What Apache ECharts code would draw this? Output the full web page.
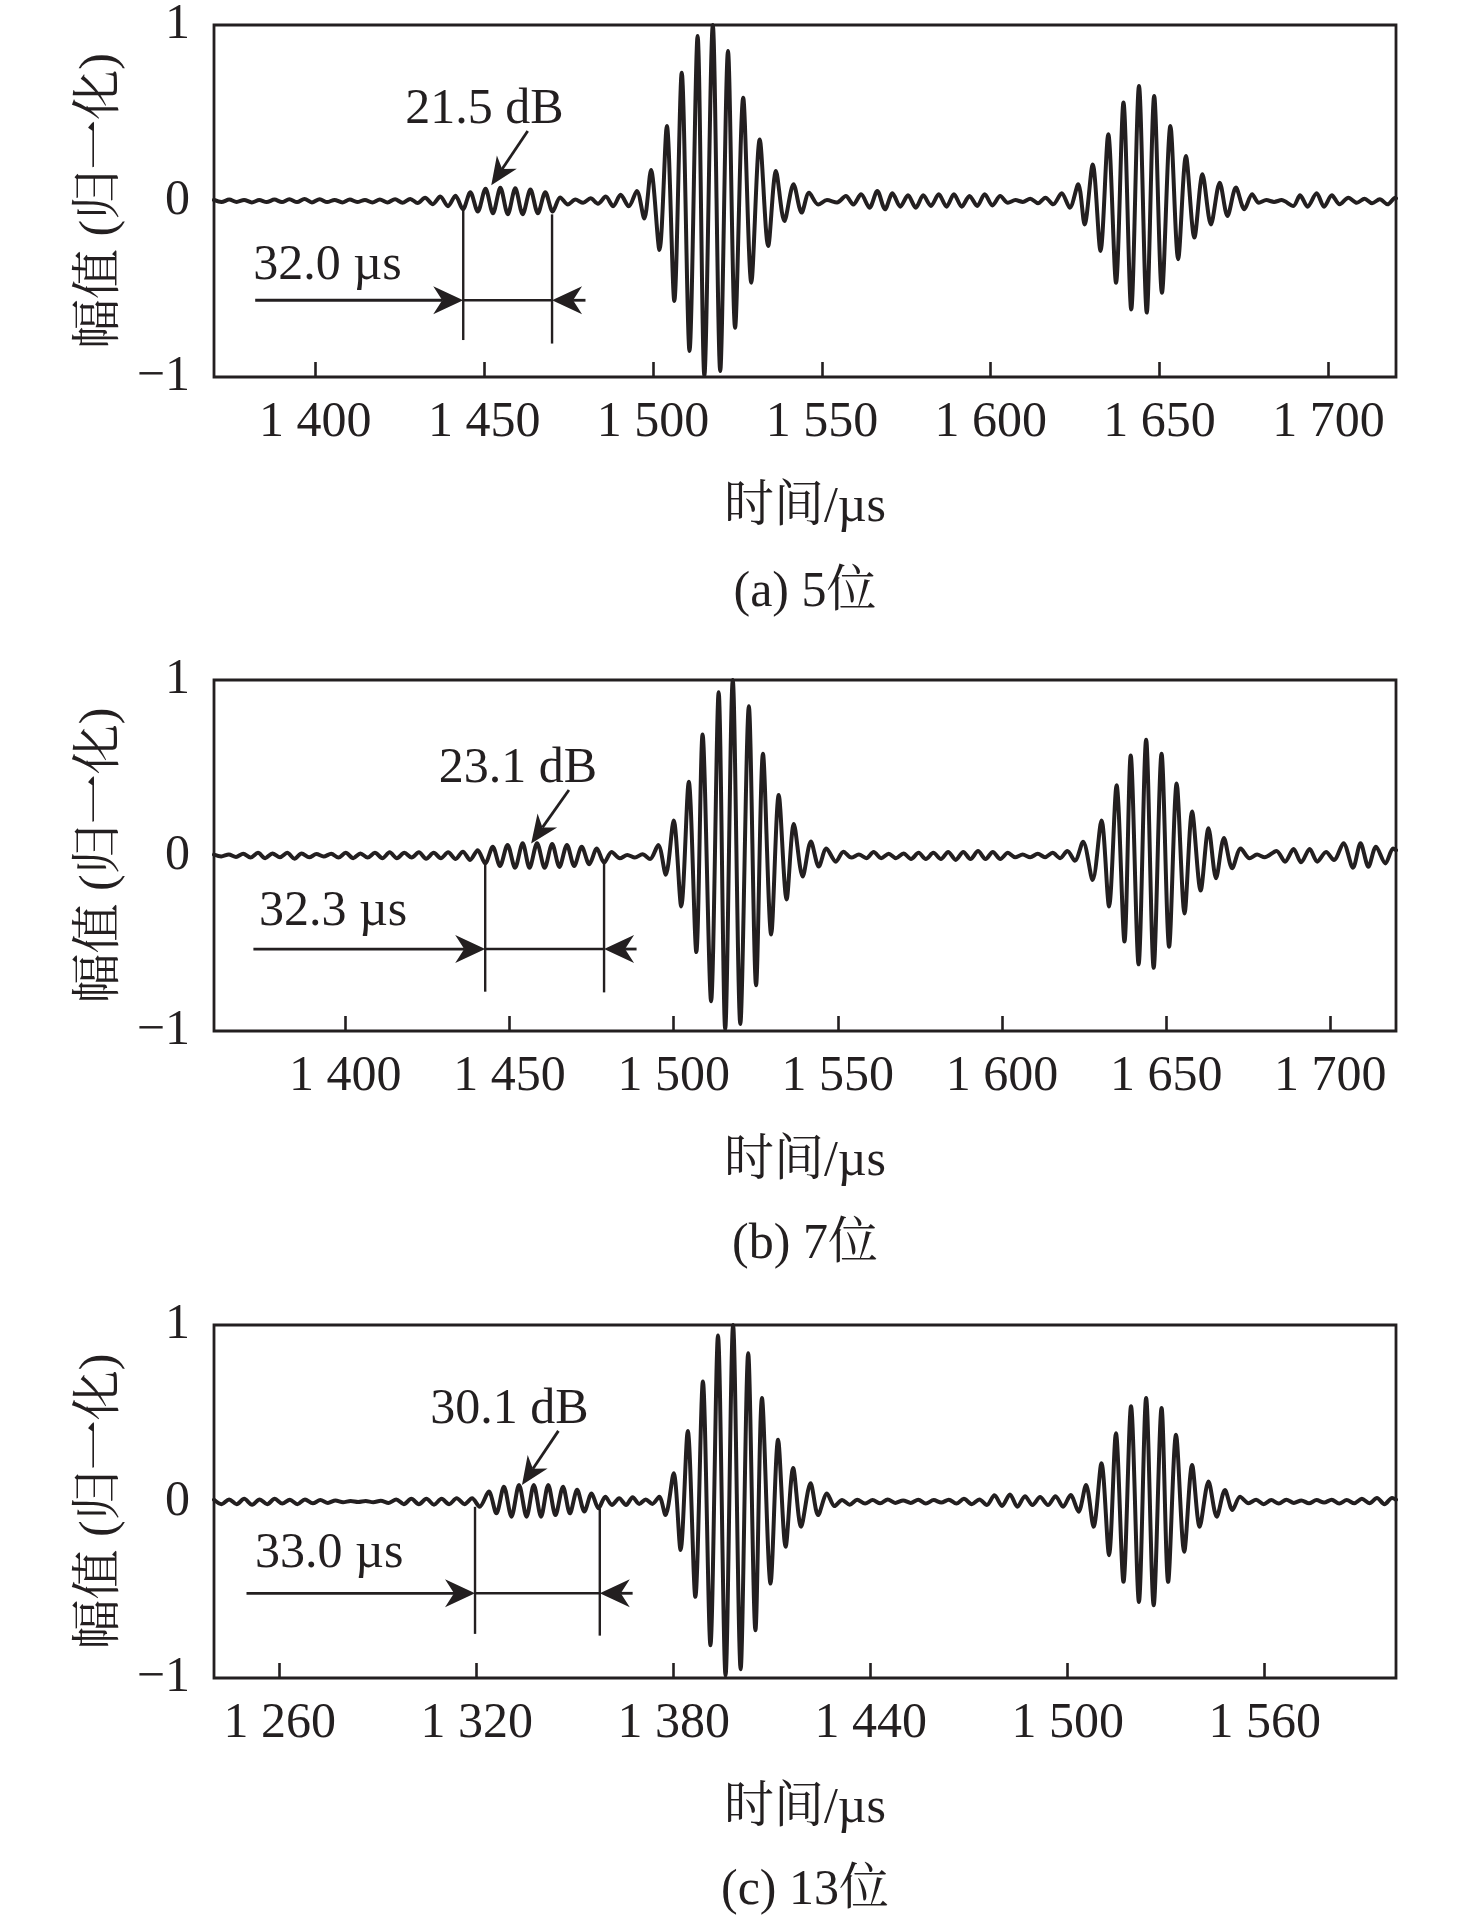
<!DOCTYPE html>
<html><head><meta charset="utf-8">
<script src="https://cdn.jsdelivr.net/npm/echarts@6/dist/echarts.min.js"></script>
<style>html,body{margin:0;padding:0;background:#fff}#c{width:1476px;height:1920px}</style>
</head><body><div id="c"></div>
<script>
// ---------- Panel (a) 5位 ----------
const timeA = [1370.0,1372.2,1374.5,1376.7,1378.9,1381.2,1383.4,1385.6,1387.9,1390.1,1392.3,1394.6,1396.8,1399.0,1401.3,1403.5,1405.7,1408.0,1410.2,1412.4,1414.7,1416.9,1419.1,1421.4,1423.6,1425.8,1428.1,1430.3,1432.5,1434.8,
1437.0,1439.3,1441.5,1443.7,1445.9,1448.1,1450.4,1452.6,1454.8,1457.0,1459.2,1461.4,1463.7,1465.9,1468.1,1470.3,1472.5,1474.8,1477.0,1479.3,1481.5,1483.7,1486.0,1488.2,1490.4,1492.8,
1495.2,1497.4,1499.4,1501.9,1504.1,1506.3,1508.5,1510.8,1513.2,1515.2,1517.7,1519.9,1522.2,1524.3,1526.7,1529.1,1531.6,1534.1,1536.4,1538.9,1541.6,1544.0,1546.2,1548.9,
1551.5,1554.5,1557.1,1559.3,1561.6,1564.1,1566.4,1568.7,1570.9,1573.2,1575.5,1577.8,1580.0,1582.3,1584.6,1586.9,1589.1,1591.4,1593.7,1596.0,1598.2,1600.5,1602.8,1605.1,1607.3,1609.5,1611.7,1614.0,1616.2,1618.5,1621.0,1623.4,
1625.9,1627.8,1630.2,1632.5,1634.8,1637.1,1639.3,1641.6,1643.9,1646.2,1648.4,1650.7,1653.2,1655.5,1657.8,1660.3,1662.7,1665.2,1667.8,1670.1,1672.6,1675.1,1677.4,1679.4,
1681.6,1683.9,1686.1,1689.6,1691.6,1693.8,1696.5,1698.7,1701.0,1703.3,1705.9,1708.4,1710.7,1712.9,1715.2,1717.5,1719.8,1720.0];
const ampA = [0.006,-0.006,0.008,-0.005,0.006,-0.008,0.005,-0.006,0.008,-0.006,0.01,-0.006,0.012,-0.008,0.01,-0.006,0.006,-0.008,0.008,-0.006,0.006,-0.008,0.008,-0.008,0.01,-0.01,0.012,-0.012,0.018,-0.018,
0.025,-0.03,0.03,-0.047,0.05,-0.06,0.07,-0.07,0.075,-0.075,0.072,-0.075,0.065,-0.07,0.05,-0.06,0.02,-0.02,0.008,-0.01,0.015,-0.015,0.025,-0.03,0.035,-0.03,
0.057,-0.10,0.176,-0.278,0.426,-0.568,0.729,-0.852,0.938,-0.994,1.0,-0.966,0.852,-0.72,0.587,-0.464,0.35,-0.256,0.17,-0.114,0.095,-0.066,0.047,-0.02,
0.005,-0.008,0.028,-0.02,0.038,-0.038,0.057,-0.047,0.044,-0.032,0.032,-0.038,0.032,-0.028,0.038,-0.032,0.038,-0.032,0.028,-0.028,0.038,-0.025,0.028,-0.01,0.005,-0.005,0.013,-0.013,0.019,-0.019,0.044,-0.038,
0.095,-0.133,0.208,-0.284,0.379,-0.464,0.559,-0.616,0.653,-0.634,0.597,-0.521,0.426,-0.331,0.256,-0.208,0.152,-0.133,0.104,-0.085,0.076,-0.047,0.038,-0.01,
0.005,-0.005,0.005,-0.028,0.032,-0.032,0.044,-0.032,0.032,-0.019,0.019,-0.01,0.013,-0.013,0.01,-0.019,0.019,0.015];
const tickValsA = [1400,1450,1500,1550,1600,1650,1700];
const tickLabelsA = ['1 400','1 450','1 500','1 550','1 600','1 650','1 700'];
const rangeA = [1370, 1720];
const textA = ['21.5 dB','32.0 µs'];
const textPosA = [[1450.1,0.52],[1403.6,-0.37]];
// segments: [x1,y1,x2,y2,head]  head 0 none, 1 span arrow, 2 pointer arrow
const segA = [[1462.9,0.398,1452.1,0.089,2],[1443.8,-0.051,1443.8,-0.79,0],[1470.1,-0.076,1470.1,-0.81,0],
  [1382.2,-0.564,1443.8,-0.564,1],[1443.8,-0.564,1470.1,-0.564,0],[1480.0,-0.564,1470.1,-0.564,1]];

// ---------- Panel (b) 7位 ----------
const timeB = [1360.0,1362.2,1364.5,1366.7,1368.9,1371.1,1373.4,1375.6,1377.8,1380.1,1382.3,1384.5,1386.7,1389.0,1391.2,1393.4,1395.7,1397.9,1400.1,1402.4,1404.6,1406.8,1409.0,1411.3,1413.5,1415.7,1418.0,1420.2,1422.4,1424.6,1426.9,1429.1,1431.3,1433.6,1435.8,1438.0,
1440.3,1442.6,1444.9,1447.1,1449.4,1451.7,1454.0,1456.1,1458.4,1460.7,1463.0,1465.2,1467.5,1469.7,1472.0,1474.3,1476.6,1478.8,1481.1,
1483.6,1485.9,1488.2,1490.5,1492.8,1495.3,1497.6,1500.0,1502.3,1504.6,1506.9,1508.8,1511.4,1513.7,1515.7,1518.0,1520.3,1522.9,1525.1,1527.2,1529.7,1532.0,1534.4,1536.6,1539.3,1541.8,1544.2,1546.5,1549.4,1551.7,1554.1,
1556.4,1558.7,1560.9,1563.2,1565.5,1567.7,1570.0,1572.3,1574.6,1576.8,1579.1,1581.4,1583.6,1585.9,1588.2,1590.4,1592.7,1595.0,1597.2,1599.5,1601.8,1604.0,1606.3,1608.6,1610.9,1613.1,1615.4,1617.7,1619.9,1622.2,
1624.7,1627.6,1630.3,1632.6,1634.9,1637.3,1639.2,1641.6,1643.9,1646.2,1648.6,1650.9,1653.2,1655.6,1657.9,1660.5,1662.9,1665.2,1667.6,1670.1,1672.7,1675.4,
1677.7,1680.0,1683.6,1686.2,1688.8,1691.1,1693.7,1696.0,1698.7,1701.1,1704.0,1706.9,1709.2,1711.6,1713.9,1716.8,1719.1,1720.0];
const ampB = [0.005,-0.005,0.006,-0.008,0.01,-0.012,0.015,-0.015,0.012,-0.01,0.015,-0.018,0.012,-0.01,0.008,-0.006,0.01,-0.012,0.015,-0.015,0.012,-0.012,0.015,-0.015,0.018,-0.015,0.015,-0.012,0.018,-0.018,0.015,-0.015,0.018,-0.02,0.022,-0.025,
0.03,-0.045,0.05,-0.06,0.06,-0.07,0.07,-0.07,0.07,-0.07,0.065,-0.065,0.06,-0.06,0.05,-0.05,0.04,-0.04,0.02,
-0.016,0.003,-0.012,0.007,-0.02,0.06,-0.11,0.2,-0.29,0.42,-0.55,0.69,-0.83,0.93,-0.99,1.0,-0.96,0.85,-0.74,0.58,-0.45,0.345,-0.25,0.18,-0.12,0.08,-0.063,0.04,-0.035,0.022,-0.012,
0.005,-0.015,0.02,-0.015,0.01,-0.015,0.012,-0.02,0.015,-0.02,0.015,-0.02,0.02,-0.025,0.02,-0.02,0.025,-0.02,0.02,-0.02,0.015,-0.01,0.005,-0.01,0.01,-0.01,0.015,-0.015,0.025,-0.03,
0.079,-0.14,0.2,-0.29,0.4,-0.49,0.57,-0.62,0.66,-0.64,0.58,-0.52,0.41,-0.33,0.25,-0.2,0.155,-0.13,0.1,-0.073,0.04,-0.016,
0.005,-0.01,0.026,-0.035,0.037,-0.039,0.037,-0.035,0.02,-0.026,0.07,-0.07,0.07,-0.064,0.05,-0.045,0.04,0.03];
const tickValsB = [1400,1450,1500,1550,1600,1650,1700];
const tickLabelsB = ['1 400','1 450','1 500','1 550','1 600','1 650','1 700'];
const rangeB = [1360, 1720];
const textB = ['23.1 dB','32.3 µs'];
const textPosB = [[1452.6,0.495],[1396.3,-0.32]];
const segB = [[1468.1,0.373,1456.6,0.069,2],[1442.6,-0.045,1442.6,-0.776,0],[1478.8,-0.045,1478.8,-0.78,0],
  [1372.0,-0.533,1442.6,-0.533,1],[1442.6,-0.533,1478.8,-0.533,0],[1488.7,-0.533,1478.8,-0.533,1]];

// ---------- Panel (c) 13位 ----------
const timeC = [1240.0,1242.3,1244.6,1246.9,1249.2,1251.6,1253.9,1256.2,1258.5,1260.8,1263.1,1265.4,1267.7,1270.1,1272.4,1274.7,1277.0,1279.3,1281.6,1283.9,1286.2,1288.5,1290.8,1293.2,1295.5,1297.8,1300.1,1302.4,1304.7,1307.0,1309.3,1311.6,1313.9,1316.3,1318.6,
1320.9,1323.7,1326.0,1328.3,1330.6,1332.9,1335.2,1337.4,1339.6,1341.8,1344.0,1346.3,1348.4,1350.6,1352.8,1355.0,1357.1,1359.2,1361.2,1363.4,1365.5,1367.5,1369.5,1371.5,1373.5,1375.6,
1377.5,1380.0,1382.1,1384.3,1386.6,1388.9,1391.2,1393.5,1395.8,1398.1,1400.4,1402.7,1404.9,1406.9,1409.5,1411.8,1414.1,1416.4,1418.8,1421.7,1424.0,1426.7,1429.0,
1431.3,1433.6,1435.9,1438.3,1440.6,1442.9,1445.2,1447.5,1449.9,1452.2,1454.5,1456.8,1459.2,1461.5,1463.8,1466.1,1468.4,1470.8,1473.1,1475.4,1477.7,1480.0,1482.4,1484.7,1487.0,1489.3,1491.6,1494.0,1496.3,1498.6,
1500.9,1503.3,1505.6,1507.9,1510.3,1512.6,1514.7,1517.0,1519.3,1521.7,1523.9,1526.2,1528.6,1530.6,1533.0,1535.5,1537.9,1540.2,1542.9,1545.4,1547.9,1550.2,1552.5,1555.1,
1557.4,1559.7,1562.0,1564.3,1566.6,1568.9,1571.2,1573.5,1575.8,1578.1,1580.4,1582.7,1585.0,1587.3,1589.6,1591.9,1594.2,1596.5,1598.8,1600.0];
const ampC = [0.01,-0.015,0.012,-0.015,0.015,-0.018,0.012,-0.015,0.015,-0.012,0.01,-0.015,0.012,-0.01,0.008,-0.008,0.006,-0.004,0.003,-0.003,0.003,-0.004,0.004,-0.008,0.012,-0.015,0.015,-0.015,0.015,-0.018,0.015,-0.015,0.018,-0.015,0.018,
-0.03,0.056,-0.067,0.084,-0.086,0.094,-0.086,0.094,-0.086,0.094,-0.077,0.084,-0.067,0.066,-0.057,0.046,-0.038,0.027,-0.02,0.018,-0.02,0.024,-0.014,0.012,-0.014,0.027,
-0.077,0.16,-0.275,0.4,-0.54,0.68,-0.815,0.94,-0.986,1.0,-0.95,0.84,-0.73,0.586,-0.465,0.35,-0.257,0.19,-0.143,0.103,-0.077,0.046,-0.026,
0.008,-0.018,0.01,-0.012,0.008,-0.01,0.012,-0.008,0.006,-0.008,0.01,-0.012,0.008,-0.006,0.01,-0.012,0.015,-0.015,0.012,-0.02,0.035,-0.025,0.04,-0.03,0.03,-0.02,0.025,-0.02,0.03,-0.03,
0.037,-0.058,0.094,-0.143,0.217,-0.304,0.387,-0.455,0.539,-0.569,0.586,-0.588,0.53,-0.455,0.378,-0.285,0.207,-0.143,0.113,-0.086,0.065,-0.048,0.027,-0.01,
0.01,-0.015,0.008,-0.012,0.01,-0.008,0.006,-0.01,0.008,-0.006,0.01,-0.012,0.008,-0.01,0.015,-0.01,0.02,-0.015,0.02,0.01];
const tickValsC = [1260,1320,1380,1440,1500,1560];
const tickLabelsC = ['1 260','1 320','1 380','1 440','1 500','1 560'];
const rangeC = [1240, 1600];
const textC = ['30.1 dB','33.0 µs'];
const textPosC = [[1330.0,0.52],[1275.1,-0.295]];
const segC = [[1344.9,0.4,1333.8,0.094,2],[1319.5,-0.03,1319.5,-0.75,0],[1357.5,-0.04,1357.5,-0.76,0],
  [1249.9,-0.52,1319.5,-0.52,1],[1319.5,-0.52,1357.5,-0.52,0],[1367.5,-0.52,1357.5,-0.52,1]];

const yTickVals = [-1, 0, 1];
const yTickLabels = ['−1', '0', '1'];
const subTitles = ['(a) 5位', '(b) 7位', '(c) 13位'];
const xName = '时间/µs';
const yName = '幅值 (归一化)';

// ---------- build ----------
const INK = '#231f20';
const FONT = '"Liberation Serif", "Noto Serif CJK SC", "Noto Sans CJK SC", serif';
const panels = [
  {time: timeA, amp: ampA, ticks: tickValsA, labels: tickLabelsA, range: rangeA, text: textA, textPos: textPosA, seg: segA, top: 25, height: 352, sub: 593},
  {time: timeB, amp: ampB, ticks: tickValsB, labels: tickLabelsB, range: rangeB, text: textB, textPos: textPosB, seg: segB, top: 680, height: 351, sub: 1245},
  {time: timeC, amp: ampC, ticks: tickValsC, labels: tickLabelsC, range: rangeC, text: textC, textPos: textPosC, seg: segC, top: 1325, height: 353, sub: 1891}
];
const GL = 214, GW = 1182;

function headPoly(p1, p2, len, halfW, notch) {
  const dx = p2[0] - p1[0], dy = p2[1] - p1[1];
  const L = Math.hypot(dx, dy) || 1;
  const ux = dx / L, uy = dy / L, nx = -uy, ny = ux;
  const bx = p2[0] - ux * len, by = p2[1] - uy * len;
  const back = [p2[0] - ux * len * (1 - notch), p2[1] - uy * len * (1 - notch)];
  return {pts: [[p2[0], p2[1]], [bx + nx * halfW, by + ny * halfW], back, [bx - nx * halfW, by - ny * halfW]], back: back};
}

function renderSeg(params, api) {
  const p1 = api.coord([api.value(0), api.value(1)]);
  const p2 = api.coord([api.value(2), api.value(3)]);
  const head = api.value(4);
  const children = [];
  let end = p2;
  if (head) {
    const h = head === 1 ? headPoly(p1, p2, 30, 14, 0.3) : headPoly(p1, p2, 28, 12, 0.3);
    end = h.back;
    children.push({type: 'polygon', shape: {points: h.pts}, style: {fill: INK}});
  }
  children.unshift({type: 'line', shape: {x1: p1[0], y1: p1[1], x2: end[0], y2: end[1]}, style: {stroke: INK, lineWidth: head ? 2.8 : 2.4}});
  return {type: 'group', children: children};
}

const grid = [], xAxis = [], yAxis = [], series = [], graphic = [];
panels.forEach((p, i) => {
  grid.push({left: GL, top: p.top, width: GW, height: p.height, show: true, borderColor: INK, borderWidth: 2.8, backgroundColor: 'transparent'});
  xAxis.push({
    type: 'value', gridIndex: i, min: p.range[0], max: p.range[1], position: 'bottom',
    axisLine: {show: false, onZero: false}, splitLine: {show: false},
    axisTick: {show: true, inside: true, length: 15, customValues: p.ticks, lineStyle: {color: INK, width: 2.6}},
    axisLabel: {customValues: p.ticks, margin: 21, color: INK, fontFamily: FONT, fontSize: 50,
      formatter: v => p.labels[p.ticks.indexOf(v)]},
    name: xName, nameLocation: 'middle', nameGap: 106,
    nameTextStyle: {color: INK, fontFamily: FONT, fontSize: 50}
  });
  yAxis.push({
    type: 'value', gridIndex: i, min: -1, max: 1, interval: 1,
    axisLine: {show: false, onZero: false}, axisTick: {show: false}, splitLine: {show: false},
    axisLabel: {margin: 24, color: INK, fontFamily: FONT, fontSize: 50, padding: [8, 0, 0, 0],
      formatter: v => yTickLabels[yTickVals.indexOf(v)]},
    name: yName, nameLocation: 'middle', nameRotate: 90, nameGap: 65,
    nameTextStyle: {color: INK, fontFamily: FONT, fontSize: 50}
  });
  series.push({
    type: 'line', xAxisIndex: i, yAxisIndex: i, showSymbol: false, smooth: 0.3, clip: true,
    lineStyle: {color: INK, width: 4, join: 'round', cap: 'round'},
    data: p.time.map((t, k) => [t, p.amp[k]]), silent: true, z: 3
  });
  series.push({
    type: 'custom', xAxisIndex: i, yAxisIndex: i, renderItem: renderSeg, silent: true, z: 5,
    encode: {x: [0, 2], y: [1, 3]}, data: p.seg
  });
  series.push({
    type: 'custom', xAxisIndex: i, yAxisIndex: i, silent: true, z: 5,
    renderItem: (params, api) => {
      const c = api.coord([api.value(0), api.value(1)]);
      return {type: 'text', x: c[0], y: c[1], style: {text: p.text[params.dataIndex], fill: INK,
        font: '50px ' + FONT, align: 'center', verticalAlign: 'middle'}};
    },
    data: p.textPos
  });
  graphic.push({type: 'text', x: GL + GW / 2, y: p.sub, style: {text: subTitles[i], fill: INK,
    font: '50px ' + FONT, align: 'center', verticalAlign: 'middle'}});
});

const chart = echarts.init(document.getElementById('c'), null, {renderer: 'canvas'});
chart.setOption({animation: false, backgroundColor: '#fff', grid, xAxis, yAxis, series, graphic});
</script></body></html>
